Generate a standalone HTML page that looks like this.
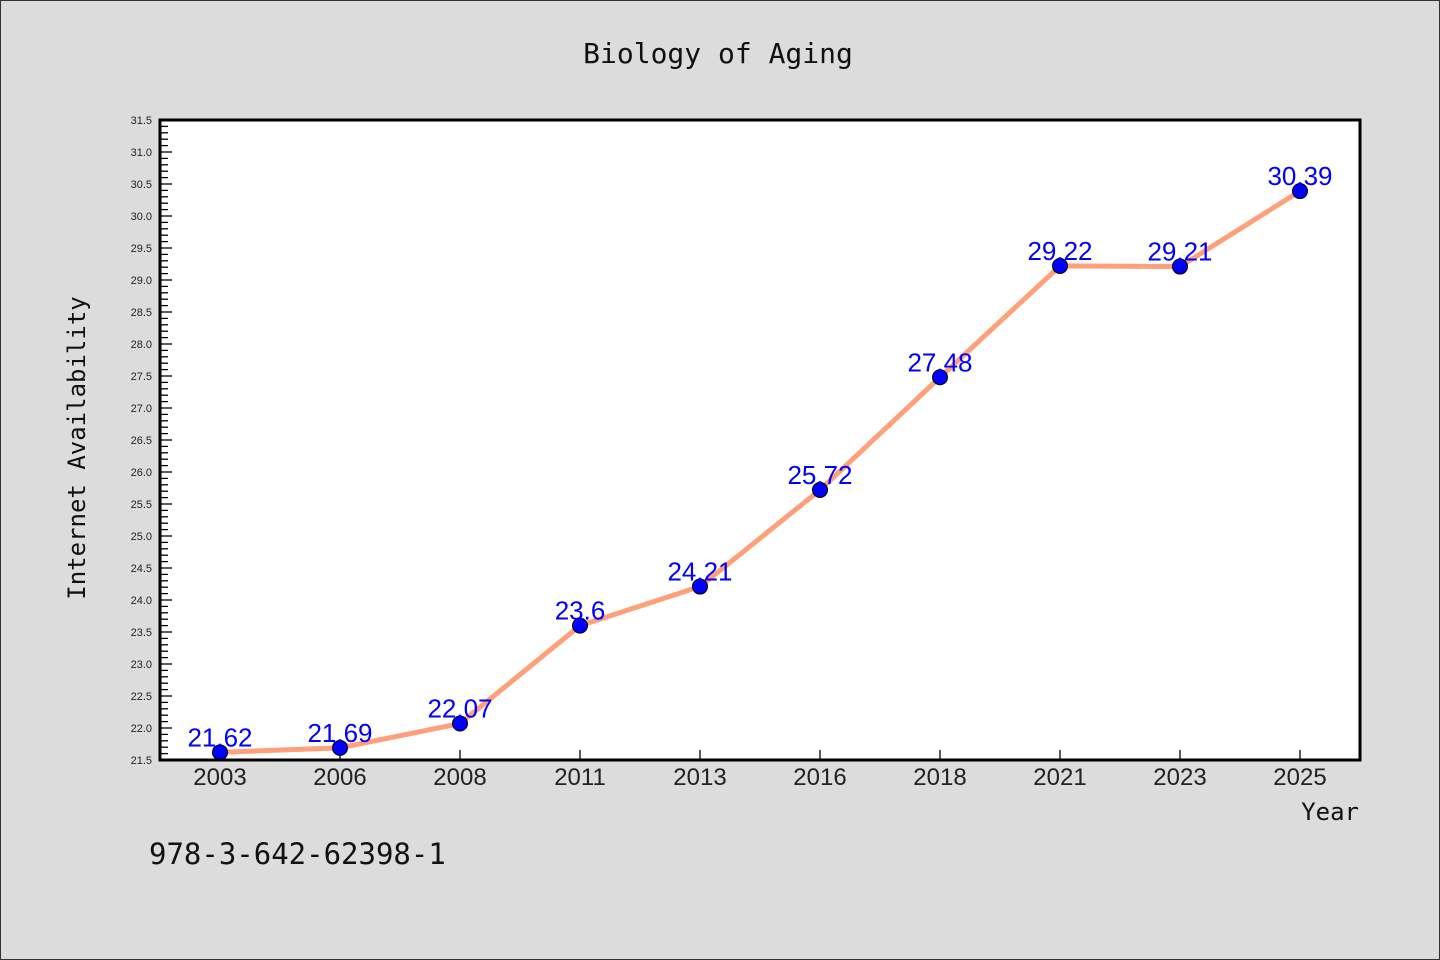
<!DOCTYPE html>
<html><head><meta charset="utf-8"><style>
html,body{margin:0;padding:0;background:#dcdcdc;}
svg{display:block;}
</style></head><body>
<svg width="1440" height="960" xmlns="http://www.w3.org/2000/svg">
<rect x="0.5" y="0.5" width="1439" height="959" fill="#dcdcdc" stroke="#333" stroke-width="1"/>
<text x="718" y="63" text-anchor="middle" font-family="DejaVu Sans Mono, monospace" font-size="28" fill="#111">Biology of Aging</text>
<rect x="160" y="120" width="1200" height="640" fill="#fff"/>
<g id="yticks"></g>
<g id="xticks"></g>
<g id="series"></g>
<rect x="160" y="120" width="1200" height="640" fill="none" stroke="#000" stroke-width="3"/>
<text transform="translate(85,448) rotate(-90)" text-anchor="middle" font-family="DejaVu Sans Mono, monospace" font-size="24" fill="#111">Internet Availability</text>
<text x="1359" y="820" text-anchor="end" font-family="DejaVu Sans Mono, monospace" font-size="24" fill="#111">Year</text>
<text x="149" y="864" font-family="DejaVu Sans Mono, monospace" font-size="29" fill="#111">978-3-642-62398-1</text>
</svg>
<script>
const categories = ["2003","2006","2008","2011","2013","2016","2018","2021","2023","2025"];
const values = [21.62,21.69,22.07,23.6,24.21,25.72,27.48,29.22,29.21,30.39];
const valueLabels = ["21.62","21.69","22.07","23.6","24.21","25.72","27.48","29.22","29.21","30.39"];
const yMin = 21.5, yMax = 31.5;
const NS = "http://www.w3.org/2000/svg";
function y(v){return 760 - (v - yMin) / (yMax - yMin) * 640;}
function x(i){return 220 + i * 120;}
function mk(tag, attrs, parent){const e=document.createElementNS(NS,tag);for(const k in attrs)e.setAttribute(k,attrs[k]);parent.appendChild(e);return e;}
const yt=document.getElementById('yticks');
for(let k=0;k<=100;k++){
  const v=yMin+k*0.1, major=k%5===0, yy=y(v);
  const t=mk('line',{x1:160,x2:major?172:168,y1:yy,y2:yy,stroke:'#000','stroke-width':1.3},yt);
  
  
  if(major){
    const l=mk('text',{x:152,y:yy+4,'text-anchor':'end','font-family':'Liberation Sans, sans-serif','font-size':11,fill:'#222'},yt);
    l.textContent=v.toFixed(1);
    
    
  }
}
const xt=document.getElementById('xticks');
categories.forEach((c,i)=>{
  const t=mk('line',{x1:x(i),x2:x(i),y1:760,y2:750,stroke:'#000','stroke-width':1.3},xt);
  
  
  const l=mk('text',{x:x(i),y:785,'text-anchor':'middle','font-family':'Liberation Sans, sans-serif','font-size':24,fill:'#222'},xt);
  l.textContent=c;
  
  
});
const s=document.getElementById('series');
const line=mk('polyline',{points:values.map((v,i)=>x(i)+','+y(v)).join(' '),fill:'none',stroke:'#ffa07a','stroke-width':5,'stroke-linejoin':'round'},s);


values.forEach((v,i)=>{
  const c=mk('circle',{cx:x(i),cy:y(v),r:7.5,fill:'#0000ff',stroke:'#000','stroke-width':1},s);
  
  
  const l=mk('text',{x:x(i),y:y(v)-6,'text-anchor':'middle','font-family':'Liberation Sans, sans-serif','font-size':26,fill:'#0000ff'},s);
  l.textContent=valueLabels[i];
  
  
});
</script>
</body></html>
